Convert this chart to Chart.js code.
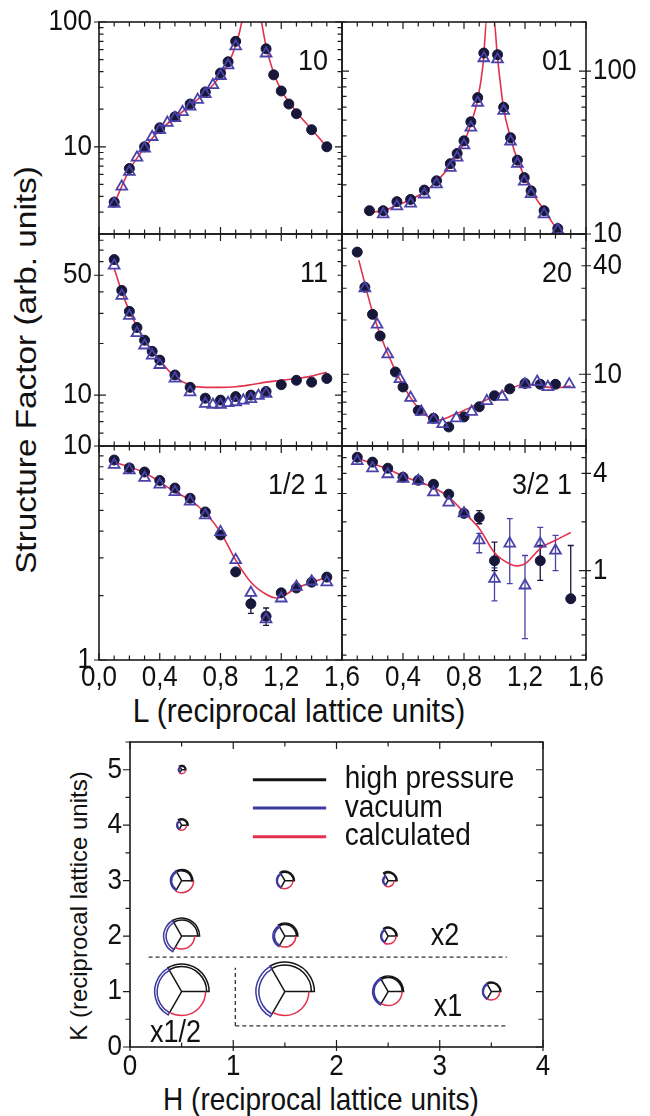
<!DOCTYPE html>
<html>
<head>
<meta charset="utf-8">
<title>Structure factor rods and in-plane amplitudes</title>
<script src="https://cdn.jsdelivr.net/npm/chart.js@4.4.1/dist/chart.umd.min.js"></script>
<style>
  body { margin: 0; background: #fff; }
  #fig { position: relative; width: 650px; height: 1116px; overflow: hidden; }
  #fig canvas { position: absolute; }
  .ttl { position: absolute; white-space: nowrap; line-height: 1; color: #111;
         font-family: "Liberation Sans", Arial, Helvetica, sans-serif; }
</style>
</head>
<body>
<div id="fig">
  <div class="ttl" style="left:26px;top:370px;font-size:29px;transform:translate(-50%,-50%) rotate(-90deg) scaleX(1.15)">Structure Factor (arb. units)</div>
  <div class="ttl" style="left:299px;top:711px;font-size:30px;transform:translate(-50%,-50%) scaleY(1.1)">L (reciprocal lattice units)</div>
  <div class="ttl" style="left:79px;top:906px;font-size:24px;transform:translate(-50%,-50%) rotate(-90deg)">K (reciprocal lattice units)</div>
  <div class="ttl" style="left:321px;top:1100px;font-size:28px;transform:translate(-50%,-50%) scaleY(1.15)">H (reciprocal lattice units)</div>
</div>
<script>
// ---- rod data (L in r.l.u., structure factor in arb. units) ----
const lTickLabels = [0, 0.4, 0.8, 1.2, 1.6];

// (1 0) rod
const rod10HpL   = [0.1, 0.2, 0.3, 0.4, 0.5, 0.6, 0.7, 0.8, 0.85, 0.9, 1.1, 1.15, 1.2, 1.25, 1.3, 1.4, 1.5];
const rod10Hp    = [3.6, 6.7, 10, 14.2, 17.4, 22, 27.5, 39, 48, 70, 61, 37.7, 28, 22, 18.4, 13.7, 10];
const rod10VacL  = [0.1, 0.15, 0.2, 0.25, 0.3, 0.35, 0.4, 0.45, 0.5, 0.55, 0.6, 0.65, 0.7, 0.75, 0.8, 0.85, 0.9, 1.1];
const rod10Vac   = [3.5, 4.8, 6.3, 8.2, 9.7, 12, 13.6, 15.6, 17, 19, 21, 23.8, 26.5, 31.3, 37, 45, 64, 56];
const rod10CalcL = [0.1, 0.2, 0.3, 0.4, 0.5, 0.6, 0.7, 0.8, 0.85, 0.9, 0.94, 0.97, 1.03, 1.07, 1.1, 1.15, 1.2, 1.3, 1.4, 1.5];
const rod10Calc  = [3.5, 6.5, 9.8, 13.6, 17, 21.5, 27, 37, 46, 65, 100, 180, 180, 100, 64, 39, 28.5, 19, 13.8, 10];

// (0 1) rod
const rod01HpL   = [0.18, 0.27, 0.36, 0.45, 0.54, 0.62, 0.71, 0.755, 0.8, 0.845, 0.89, 0.93, 1.02, 1.06, 1.105, 1.15, 1.195, 1.24, 1.325, 1.415];
const rod01Hp    = [13.9, 13.9, 15.8, 16.3, 18.6, 21.2, 27, 31.2, 37.3, 48.8, 68.7, 129, 126, 60, 39, 28.4, 22.2, 18.4, 13.9, 10.8];
const rod01VacL  = [0.27, 0.36, 0.45, 0.54, 0.62, 0.71, 0.755, 0.8, 0.845, 0.89, 0.93, 1.02, 1.06, 1.105, 1.15, 1.195, 1.24, 1.325, 1.415];
const rod01Vac   = [13.2, 14.8, 15.4, 17.5, 20.2, 25.5, 29.5, 35, 45, 64, 120, 118, 57, 37, 27, 21, 17.6, 13.2, 10.6];
const rod01CalcL = [0.18, 0.27, 0.36, 0.45, 0.54, 0.62, 0.71, 0.8, 0.845, 0.89, 0.925, 0.95, 0.995, 1.02, 1.06, 1.105, 1.15, 1.24, 1.325, 1.43];
const rod01Calc  = [13.6, 13.9, 15, 16.3, 18.1, 21, 26.3, 36.5, 47.3, 67, 110, 210, 210, 120, 59, 39, 28.6, 18.5, 14, 10];

// (1 1) rod
const rod11HpL   = [0.1, 0.15, 0.2, 0.25, 0.3, 0.35, 0.4, 0.5, 0.6, 0.7, 0.8, 0.9, 1.0, 1.1, 1.2, 1.3, 1.4, 1.5];
const rod11Hp    = [61.7, 40.8, 30.8, 24.8, 20.9, 18, 16, 13.1, 11.1, 9.6, 9.35, 9.8, 10, 10.5, 11.5, 12.2, 11.9, 12.5];
const rod11VacL  = [0.1, 0.15, 0.2, 0.25, 0.3, 0.35, 0.4, 0.5, 0.6, 0.7, 0.75, 0.8, 0.85, 0.9, 0.95, 1.0, 1.05, 1.1];
const rod11Vac   = [57, 38, 29, 23, 19.5, 17, 15, 12.5, 10.4, 8.9, 8.8, 8.8, 9.0, 9.1, 9.3, 9.5, 9.9, 10.2];
const rod11CalcL = [0.1, 0.15, 0.2, 0.3, 0.4, 0.5, 0.6, 0.7, 0.8, 0.9, 1.0, 1.1, 1.2, 1.3, 1.4, 1.5];
const rod11Calc  = [55, 40, 31, 21, 16, 12.8, 11.4, 11.1, 11.1, 11.2, 11.5, 11.9, 12.2, 12.5, 12.9, 13.6];

// (2 0) rod
const rod20HpL   = [0.1, 0.15, 0.2, 0.25, 0.35, 0.4, 0.5, 0.6, 0.7, 0.8, 0.9, 1.0, 1.1, 1.2, 1.3, 1.4];
const rod20Hp    = [47.6, 30.4, 21.5, 16.3, 10.3, 8.5, 6.3, 5.7, 5.1, 5.8, 6.6, 7.6, 8.3, 8.9, 8.8, 8.8];
const rod20VacL  = [0.15, 0.23, 0.3, 0.38, 0.45, 0.52, 0.6, 0.66, 0.75, 0.85, 0.95, 1.05, 1.2, 1.28, 1.35, 1.49];
const rod20Vac   = [30, 18.9, 12.9, 9.4, 7.4, 6.2, 5.6, 5.3, 5.7, 6.2, 7.1, 7.5, 8.8, 9.1, 8.5, 8.8];
const rod20CalcL = [0.11, 0.2, 0.3, 0.4, 0.5, 0.62, 0.75, 0.9, 1.1, 1.2, 1.4, 1.5];
const rod20Calc  = [43, 22.2, 13, 8.7, 6.5, 5.55, 6.05, 6.9, 8.3, 8.8, 8.4, 8.6];

// (1/2 1) rod
const rodH1HpL   = [0.1, 0.2, 0.3, 0.4, 0.5, 0.6, 0.7, 0.8, 0.9, 1.0, 1.1, 1.2, 1.3, 1.4, 1.5];
const rodH1Hp    = [8.6, 7.9, 7.56, 6.9, 6.36, 5.7, 4.92, 3.84, 2.58, 1.83, 1.6, 2.06, 2.17, 2.31, 2.44];
const rodH1HpLo  = [null, null, null, null, null, null, null, null, null, 1.65, 1.45, null, null, null, null];
const rodH1HpHi  = [null, null, null, null, null, null, null, null, null, 2.0, 1.75, null, null, null, null];
const rodH1VacL  = [0.1, 0.2, 0.3, 0.4, 0.5, 0.6, 0.7, 0.8, 0.9, 1.0, 1.1, 1.2, 1.3, 1.4, 1.5];
const rodH1Vac   = [8.17, 7.7, 7.1, 6.6, 6.1, 5.5, 4.75, 3.96, 2.93, 2.06, 1.55, 1.94, 2.2, 2.33, 2.31];
const rodH1CalcL = [0.1, 0.2, 0.3, 0.4, 0.5, 0.6, 0.7, 0.8, 0.9, 1.0, 1.1, 1.17, 1.2, 1.3, 1.4, 1.5];
const rodH1Calc  = [8.4, 8.0, 7.5, 6.8, 6.1, 5.6, 4.86, 3.96, 2.93, 2.31, 2.03, 1.95, 1.97, 2.17, 2.3, 2.44];

// (3/2 1) rod
const rodT1HpL   = [0.1, 0.2, 0.3, 0.4, 0.5, 0.6, 0.7, 0.8, 0.9, 1.0, 1.3, 1.5];
const rodT1Hp    = [5.03, 4.69, 4.3, 3.78, 3.62, 3.42, 2.97, 2.26, 2.13, 1.15, 1.15, 0.67];
const rodT1HpLo  = [null, null, null, null, null, null, null, null, 1.95, 1.0, 0.87, null];
const rodT1HpHi  = [null, null, null, null, null, null, null, null, 2.35, 1.5, 1.43, 1.43];
const rodT1VacL  = [0.1, 0.2, 0.3, 0.4, 0.5, 0.6, 0.7, 0.8, 0.9, 1.0, 1.1, 1.2, 1.3, 1.4];
const rodT1Vac   = [4.76, 4.3, 3.95, 3.7, 3.6, 3.05, 2.64, 2.26, 1.54, 0.89, 1.47, 0.81, 1.47, 1.33];
const rodT1VacLo = [null, null, null, null, null, null, null, null, 1.29, 0.65, 0.83, 0.38, 1.15, 1.0];
const rodT1VacHi = [null, null, null, null, null, null, null, null, 1.7, 1.04, 2.1, 1.24, 1.85, 1.65];
const rodT1CalcL = [0.1, 0.2, 0.3, 0.4, 0.5, 0.6, 0.7, 0.8, 0.9, 1.0, 1.1, 1.15, 1.2, 1.3, 1.4, 1.5];
const rodT1Calc  = [4.96, 4.6, 4.25, 3.84, 3.55, 3.27, 2.85, 2.29, 1.82, 1.29, 1.1, 1.07, 1.1, 1.37, 1.54, 1.72];

// ---- in-plane map: (H, K) reflections and amplitudes ----
const hkH       = [0.5, 0.5, 0.5, 1.5, 2.5, 0.5, 1.5, 2.5, 0.5, 1.5, 2.5, 3.5];
const hkK       = [5, 4, 3, 3, 3, 2, 2, 2, 1, 1, 1, 1];
const hkAmpHP   = [3.5, 5.5, 10, 8.5, 8, 16, 11.5, 8, 25, 26.5, 14, 8.5];
const hkErrHP   = [0.8, 1, 1.2, 1, 1, 2, 1.5, 1, 2.5, 3, 1.5, 1];
const hkAmpVac  = [2.5, 4, 10, 7.5, 4.5, 15.5, 10.5, 6.5, 24.5, 26, 14, 8];
const hkErrVac  = [0.8, 1, 1.2, 1, 1, 2.5, 1.5, 1, 2.5, 3, 1.5, 1];
const hkAmpCalc = [4, 5, 12, 8, 6, 13, 11, 8, 24, 24, 14, 8.5];
const hkTicksH  = [0, 1, 2, 3, 4];
const hkTicksK  = [0, 1, 2, 3, 4, 5];

// ---- drawing ----
const FONT = '"Liberation Sans", Arial, Helvetica, sans-serif';
const INK = '#1c1c1c';
const HP_COLOR = '#17173a';
const VAC_COLOR = '#4a42a8';
const CALC_COLOR = '#e3314d';

const fig = document.getElementById('fig');
const pts = (xs, ys) => xs.map((x, i) => ({ x, y: ys[i] }));

function addCanvas(left, top, w, h) {
  const c = document.createElement('canvas');
  c.width = w; c.height = h;
  c.style.left = left + 'px'; c.style.top = top + 'px';
  c.style.width = w + 'px'; c.style.height = h + 'px';
  fig.appendChild(c);
  return c;
}

// text slightly stretched vertically, like the printed figure
function label(ctx, str, x, y, align, base, size, sy) {
  ctx.save();
  ctx.font = size + 'px ' + FONT;
  ctx.fillStyle = '#111';
  ctx.textAlign = align;
  ctx.textBaseline = base;
  ctx.translate(x, y);
  ctx.scale(1, sy);
  ctx.fillText(str, 0, 0);
  ctx.restore();
}

const rodFrame = {
  id: 'rodFrame',
  beforeDatasetsDraw(chart) {
    // error bars
    const { ctx, scales: { x, y } } = chart;
    ctx.save();
    ctx.lineWidth = 1.3;
    chart.data.datasets.forEach(ds => {
      if (!ds.errLo) return;
      ctx.strokeStyle = ds.borderColor;
      ctx.beginPath();
      ds.data.forEach((p, i) => {
        const lo = ds.errLo[i], hi = ds.errHi[i];
        if (lo == null && hi == null) return;
        const px = x.getPixelForValue(p.x);
        const y1 = y.getPixelForValue(lo == null ? p.y : lo);
        const y2 = y.getPixelForValue(hi == null ? p.y : hi);
        ctx.moveTo(px, y1); ctx.lineTo(px, y2);
        if (lo != null) { ctx.moveTo(px - 3, y1); ctx.lineTo(px + 3, y1); }
        if (hi != null) { ctx.moveTo(px - 3, y2); ctx.lineTo(px + 3, y2); }
      });
      ctx.stroke();
    });
    ctx.restore();
  },
  afterDraw(chart, args, o) {
    const { ctx, chartArea: a, scales: { x, y } } = chart;
    ctx.save();
    ctx.strokeStyle = INK;
    ctx.lineWidth = 1.6;
    ctx.strokeRect(a.left, a.top, a.right - a.left, a.bottom - a.top);
    ctx.lineWidth = 1.2;
    ctx.beginPath();
    for (let i = 0; i <= 16; i++) {
      const px = x.getPixelForValue(i / 10);
      const len = i % 4 === 0 ? 7 : 4.5;
      ctx.moveTo(px, a.top); ctx.lineTo(px, a.top + len);
      ctx.moveTo(px, a.bottom); ctx.lineTo(px, a.bottom - len);
    }
    const d0 = Math.floor(Math.log10(y.min)), d1 = Math.ceil(Math.log10(y.max));
    for (let d = d0; d <= d1; d++) {
      for (let k = 1; k <= 9; k++) {
        const v = k * Math.pow(10, d);
        if (v < y.min * 0.999 || v > y.max * 1.001) continue;
        const py = y.getPixelForValue(v);
        const len = k === 1 ? 7 : 4.5;
        ctx.moveTo(a.left, py); ctx.lineTo(a.left + len, py);
        ctx.moveTo(a.right, py); ctx.lineTo(a.right - len, py);
      }
    }
    o.yLabels.forEach(v => {
      const py = y.getPixelForValue(v);
      if (o.side === 'left') { ctx.moveTo(a.left - 5, py); ctx.lineTo(a.left, py); }
      else { ctx.moveTo(a.right, py); ctx.lineTo(a.right + 5, py); }
    });
    ctx.stroke();

    o.yLabels.forEach(v => {
      const py = y.getPixelForValue(v);
      if (o.side === 'left') label(ctx, String(v), a.left - 7, py, 'right', 'middle', 26, 1.15);
      else label(ctx, String(v), a.right + 7, py, 'left', 'middle', 26, 1.15);
    });
    if (o.xLabels) {
      o.xLabels.forEach(v => {
        if (o.side === 'right' && v === 0) return;
        label(ctx, v.toFixed(1).replace('.', ','), x.getPixelForValue(v), a.bottom + 3, 'center', 'top', 26, 1.15);
      });
    }
    label(ctx, o.name, a.right - 14, a.top + 40, 'right', 'middle', 27, 1.1);
    ctx.restore();
  }
};

const COLS = [[99, 342], [342, 586]];
const ROWS = [[22, 234], [234, 446], [446, 660]];

const panels = [
  { name: '10', col: 0, row: 0, yMin: 2, yMax: 100, yLabels: [10, 100],
    hp: pts(rod10HpL, rod10Hp), vac: pts(rod10VacL, rod10Vac), calc: pts(rod10CalcL, rod10Calc) },
  { name: '01', col: 1, row: 0, yMin: 10, yMax: 200, yLabels: [10, 100],
    hp: pts(rod01HpL, rod01Hp), vac: pts(rod01VacL, rod01Vac), calc: pts(rod01CalcL, rod01Calc) },
  { name: '11', col: 0, row: 1, yMin: 5.05, yMax: 87, yLabels: [10, 50],
    hp: pts(rod11HpL, rod11Hp), vac: pts(rod11VacL, rod11Vac), calc: pts(rod11CalcL, rod11Calc) },
  { name: '20', col: 1, row: 1, yMin: 4, yMax: 60, yLabels: [10, 40],
    hp: pts(rod20HpL, rod20Hp), vac: pts(rod20VacL, rod20Vac), calc: pts(rod20CalcL, rod20Calc) },
  { name: '1/2 1', col: 0, row: 2, yMin: 1, yMax: 10, yLabels: [1, 10],
    hp: pts(rodH1HpL, rodH1Hp), vac: pts(rodH1VacL, rodH1Vac), calc: pts(rodH1CalcL, rodH1Calc),
    hpLo: rodH1HpLo, hpHi: rodH1HpHi },
  { name: '3/2 1', col: 1, row: 2, yMin: 0.28, yMax: 5.9, yLabels: [1, 4],
    hp: pts(rodT1HpL, rodT1Hp), vac: pts(rodT1VacL, rodT1Vac), calc: pts(rodT1CalcL, rodT1Calc),
    hpLo: rodT1HpLo, hpHi: rodT1HpHi, vacLo: rodT1VacLo, vacHi: rodT1VacHi }
];

panels.forEach(p => {
  const [x0, x1] = COLS[p.col];
  const [y0, y1] = ROWS[p.row];
  const pad = {
    left: p.col === 0 ? 99 : 24,
    right: p.col === 0 ? 24 : 64,
    top: p.row === 0 ? 22 : 24,
    bottom: p.row === 2 ? 56 : 24
  };
  const cv = addCanvas(x0 - pad.left, y0 - pad.top,
    x1 - x0 + pad.left + pad.right, y1 - y0 + pad.top + pad.bottom);

  new Chart(cv, {
    type: 'scatter',
    data: {
      datasets: [
        {
          label: 'vacuum', data: p.vac, order: 1, clip: false,
          pointStyle: 'triangle', pointRadius: 6.2, borderWidth: 1.8,
          borderColor: VAC_COLOR, backgroundColor: 'rgba(255,255,255,0)',
          errLo: p.vacLo, errHi: p.vacHi
        },
        {
          label: 'high pressure', data: p.hp, order: 2, clip: false,
          pointStyle: 'circle', pointRadius: 5, borderWidth: 1,
          borderColor: HP_COLOR, backgroundColor: HP_COLOR,
          errLo: p.hpLo, errHi: p.hpHi
        },
        {
          label: 'calculated', data: p.calc, order: 3, showLine: true,
          pointRadius: 0, borderWidth: 1.6, borderColor: CALC_COLOR,
          cubicInterpolationMode: 'monotone'
        }
      ]
    },
    options: {
      responsive: false,
      animation: false,
      events: [],
      layout: { padding: pad },
      scales: {
        x: { type: 'linear', min: 0, max: 1.6, display: false },
        y: { type: 'logarithmic', min: p.yMin, max: p.yMax, display: false }
      },
      plugins: {
        legend: { display: false },
        tooltip: { enabled: false },
        rodFrame: {
          name: p.name,
          side: p.col === 0 ? 'left' : 'right',
          yLabels: p.yLabels,
          xLabels: p.row === 2 ? lTickLabels : null
        }
      }
    },
    plugins: [rodFrame]
  });
});

// ---- in-plane amplitude map ----
function band(ctx, cx, cy, r0, r1, a0, a1, color) {
  ctx.strokeStyle = color;
  ctx.beginPath();
  ctx.arc(cx, cy, r1, a0, a1);
  ctx.arc(cx, cy, r0, a1, a0, true);
  ctx.closePath();
  ctx.stroke();
}

const hkMap = {
  id: 'hkMap',
  afterDatasetsDraw(chart, args, o) {
    const { ctx, scales: { x, y } } = chart;
    const [hp, vac, calc] = chart.data.datasets;
    const T = Math.PI * 2 / 3;
    const s = o.pxPerUnit;
    ctx.save();
    ctx.lineWidth = 1.5;
    hp.data.forEach((pt, i) => {
      const cx = x.getPixelForValue(pt.x), cy = y.getPixelForValue(pt.y);
      const rH = hp.amp[i] * s, eH = hp.err[i] * s;
      const rV = vac.amp[i] * s, eV = vac.err[i] * s;
      const rC = calc.amp[i] * s;
      ctx.strokeStyle = hp.borderColor;
      ctx.beginPath();
      [[0, Math.max(rH, rC)], [T, Math.max(rV, rC)], [2 * T, Math.max(rV, rH)]].forEach(([ang, r]) => {
        ctx.moveTo(cx, cy);
        ctx.lineTo(cx + r * Math.cos(ang), cy + r * Math.sin(ang));
      });
      ctx.stroke();
      band(ctx, cx, cy, rH, rH + eH, 2 * T, 3 * T, hp.borderColor);
      band(ctx, cx, cy, rV, rV + eV, T, 2 * T, vac.borderColor);
      ctx.strokeStyle = calc.borderColor;
      ctx.beginPath();
      ctx.arc(cx, cy, rC, 0, T);
      ctx.stroke();
    });

    // legend
    const lg = o.legend;
    [hp, vac, calc].forEach((ds, i) => {
      const py = y.getPixelForValue(lg.k[i]);
      ctx.strokeStyle = ds.borderColor;
      ctx.lineWidth = 3;
      ctx.beginPath();
      ctx.moveTo(x.getPixelForValue(lg.h0), py);
      ctx.lineTo(x.getPixelForValue(lg.h1), py);
      ctx.stroke();
      label(ctx, ds.label, x.getPixelForValue(lg.text), py, 'left', 'middle', 28, 1.12);
    });

    // scale factors of the glyph groups
    o.notes.forEach(n => {
      label(ctx, n.text, x.getPixelForValue(n.h), y.getPixelForValue(n.k), 'center', 'middle', 27, 1.15);
    });
    ctx.restore();
  },
  afterDraw(chart) {
    const { ctx, chartArea: a, scales: { x, y } } = chart;
    ctx.save();
    ctx.strokeStyle = INK;
    ctx.lineWidth = 1.6;
    ctx.strokeRect(a.left, a.top, a.right - a.left, a.bottom - a.top);
    ctx.lineWidth = 1.2;
    ctx.beginPath();
    for (let i = 0; i <= 8; i++) {
      const px = x.getPixelForValue(i / 2);
      const len = i % 2 === 0 ? 7 : 4.5;
      ctx.moveTo(px, a.bottom + (i % 2 === 0 ? 4 : 0)); ctx.lineTo(px, a.bottom - len);
      ctx.moveTo(px, a.top); ctx.lineTo(px, a.top + len);
    }
    for (let i = 0; i <= 11; i++) {
      const v = i / 2;
      if (v > y.max) break;
      const py = y.getPixelForValue(v);
      const len = i % 2 === 0 ? 7 : 4.5;
      ctx.moveTo(a.left - len, py); ctx.lineTo(a.left, py);
      ctx.moveTo(a.right, py); ctx.lineTo(a.right - len, py);
    }
    ctx.stroke();
    hkTicksH.forEach(v => label(ctx, String(v), x.getPixelForValue(v), a.bottom + 6, 'center', 'top', 26, 1.1));
    hkTicksK.forEach(v => label(ctx, String(v), a.left - 8, y.getPixelForValue(v), 'right', 'middle', 26, 1.1));
    ctx.restore();
  }
};

const hkPts = pts(hkH, hkK);
const dashed = (data) => ({
  label: '', data, showLine: true, pointRadius: 0,
  borderColor: '#333', borderWidth: 1.3, borderDash: [4, 3]
});

const hkCanvas = addCanvas(0, 700, 650, 416);
new Chart(hkCanvas, {
  type: 'scatter',
  data: {
    datasets: [
      { label: 'high pressure', data: hkPts, amp: hkAmpHP, err: hkErrHP, borderColor: '#151515', pointRadius: 0 },
      { label: 'vacuum', data: hkPts, amp: hkAmpVac, err: hkErrVac, borderColor: '#3d3a9e', pointRadius: 0 },
      { label: 'calculated', data: hkPts, amp: hkAmpCalc, borderColor: CALC_COLOR, pointRadius: 0 },
      dashed([{ x: 0.18, y: 1.62 }, { x: 3.65, y: 1.62 }]),
      dashed([{ x: 1.02, y: 0.38 }, { x: 3.64, y: 0.38 }]),
      dashed([{ x: 1.02, y: 0.38 }, { x: 1.02, y: 1.43 }])
    ]
  },
  options: {
    responsive: false,
    animation: false,
    events: [],
    layout: { padding: { left: 130, right: 107, top: 42, bottom: 69 } },
    scales: {
      x: { type: 'linear', min: 0, max: 4, display: false },
      y: { type: 'linear', min: 0, max: 5.5, display: false }
    },
    plugins: {
      legend: { display: false },
      tooltip: { enabled: false },
      hkMap: {
        pxPerUnit: 1,
        legend: { h0: 1.19, h1: 1.9, text: 2.08, k: [4.82, 4.31, 3.79] },
        notes: [
          { text: 'x2', h: 3.05, k: 2.0 },
          { text: 'x1', h: 3.08, k: 0.72 },
          { text: 'x1/2', h: 0.44, k: 0.25 }
        ]
      }
    }
  },
  plugins: [hkMap]
});
</script>
</body>
</html>
